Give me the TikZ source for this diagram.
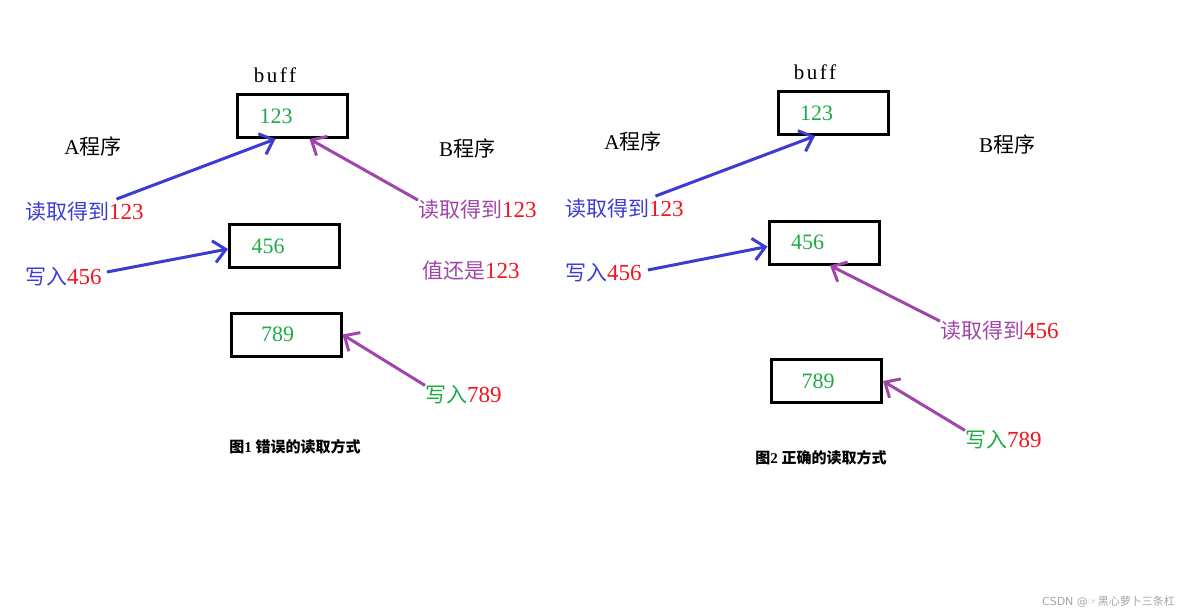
\documentclass[tikz,border=0pt]{standalone}
\usepackage{fontspec}
\setmainfont{Liberation Serif}
\newfontfamily\cjk{Noto Sans CJK SC}
\newfontfamily\wmfont{DejaVu Sans}
\newfontfamily\bufffont[LetterSpace=12]{Liberation Serif}
\usetikzlibrary{arrows.meta}
\definecolor{rdblue}{RGB}{60,60,210}
\definecolor{rdpurple}{RGB}{160,70,170}
\definecolor{rdred}{RGB}{240,20,30}
\definecolor{rdgreen}{RGB}{30,170,70}
\newcommand\rednum[1]{\textcolor{rdred}{\fontsize{23}{24}\selectfont #1}}

\begin{document}
\begin{tikzpicture}[x=1pt,y=-1pt,
  cell/.style={draw,line width=3pt,minimum width=110pt,minimum height=43pt,text width=66pt,inner xsep=22pt,align=left,text=rdgreen,font=\fontsize{22}{24}\selectfont},
  lbl/.style={inner sep=0pt,font=\fontsize{21}{24}\selectfont},
  hdtext/.style={inner sep=0pt,font=\fontsize{21}{24}\selectfont},
  figcap/.style={inner sep=0pt,font=\fontsize{15}{17}\selectfont\bfseries},
  ptr/.style={line width=3pt,-{Straight Barb[length=12pt,width=22pt]}}]
\useasboundingbox (0,0) rectangle (1184,614);

% Fig 1: wrong way
\node[hdtext] (bufT1) at (275,75) {\bufffont buff};
\node[cell] (bufA1) at (292.5,116) {123};
\node[cell] (bufA2) at (284.5,246) {456};
\node[cell] (bufA3) at (286,334.5) {\hspace*{8pt}789};
\node[hdtext] (prgA1) at (93,146) {A{\cjk 程序}};
\node[hdtext] (prgB1) at (467,148) {B{\cjk 程序}};
\node[lbl,anchor=west,text=rdblue] (rdA1) at (25,212) {{\cjk 读取得到}\rednum{123}};
\node[lbl,anchor=west,text=rdpurple] (rdB1) at (418,210) {{\cjk 读取得到}\rednum{123}};
\node[lbl,anchor=west,text=rdblue] (wrA1) at (25,277) {{\cjk 写入}\rednum{456}};
\node[lbl,anchor=west,text=rdpurple] (stB1) at (422,271) {{\cjk 值还是}\rednum{123}};
\node[lbl,anchor=west,text=rdgreen] (wrB1) at (425,395) {{\cjk 写入}\rednum{789}};
\node[figcap] (cap1) at (295,447) {{\cjk 图}1 {\cjk 错误的读取方式}};

\draw[ptr,rdblue] ([xshift=32pt,yshift=3pt]rdA1.north) -- ([xshift=-17pt]bufA1.south);
\draw[ptr,rdpurple] (rdB1.north west) -- ([xshift=17pt]bufA1.south);
\draw[ptr,rdblue] ([xshift=5pt,yshift=5pt]wrA1.east) -- ([yshift=-3pt]bufA2.west);
\draw[ptr,rdpurple] (wrB1.north west) -- (bufA3.east);

% Fig 2: right way
\node[hdtext] (bufT2) at (815,72) {\bufffont buff};
\node[cell] (bufC1) at (833,113) {123};
\node[cell] (bufC2) at (824,242.5) {456};
\node[cell] (bufC3) at (826.5,381) {\hspace*{8pt}789};
\node[hdtext] (prgA2) at (633,141) {A{\cjk 程序}};
\node[hdtext] (prgB2) at (1007,144) {B{\cjk 程序}};
\node[lbl,anchor=west,text=rdblue] (rdA2) at (565,209) {{\cjk 读取得到}\rednum{123}};
\node[lbl,anchor=west,text=rdblue] (wrA2) at (565,273) {{\cjk 写入}\rednum{456}};
\node[lbl,anchor=west,text=rdpurple] (rdB2) at (940,331) {{\cjk 读取得到}\rednum{456}};
\node[lbl,anchor=west,text=rdgreen] (wrB2) at (965,440) {{\cjk 写入}\rednum{789}};
\node[figcap] (cap2) at (821,458) {{\cjk 图}2 {\cjk 正确的读取方式}};

\draw[ptr,rdblue] ([xshift=31pt,yshift=3pt]rdA2.north) -- ([xshift=-18pt]bufC1.south);
\draw[ptr,rdblue] ([xshift=6pt,yshift=3pt]wrA2.east) -- ([yshift=-4pt]bufC2.west);
\draw[ptr,rdpurple] (rdB2.north west) -- ([xshift=6pt]bufC2.south);
\draw[ptr,rdpurple] (wrB2.north west) -- (bufC3.east);

% watermark
\node[inner sep=0pt,anchor=east,text=gray!70,font=\fontsize{11}{13}\selectfont] (wmark) at (1175,602) {{\wmfont CSDN @☞}{\cjk 黑心萝卜三条杠}};
\end{tikzpicture}
\end{document}
